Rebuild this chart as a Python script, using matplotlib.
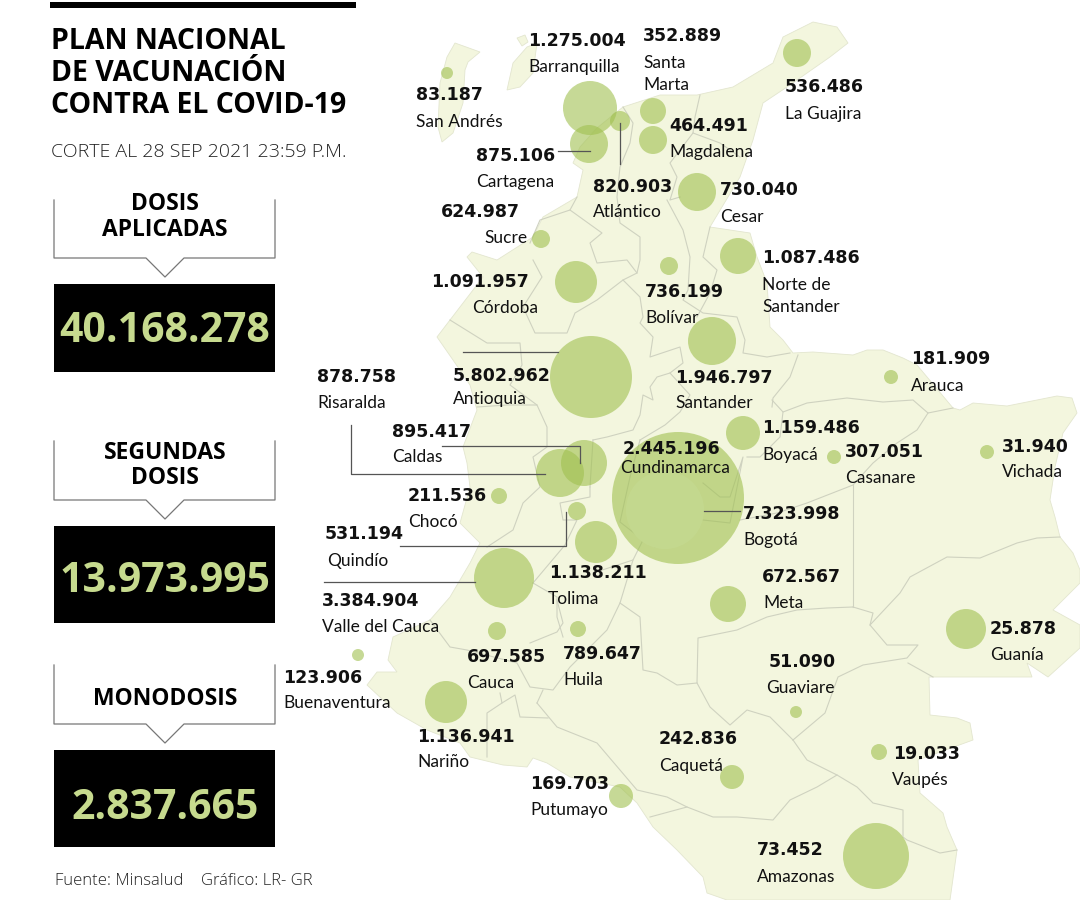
import matplotlib
matplotlib.use('Agg')
import matplotlib.pyplot as plt
from matplotlib.patches import Circle, Polygon, Rectangle

#=========================================================================
# values, one entry per bubble
names = ['Barranquilla', 'Santa\nMarta', 'San Andrés', 'La Guajira', 'Magdalena',
         'Cartagena', 'Atlántico', 'Cesar', 'Sucre', 'Norte de\nSantander',
         'Córdoba', 'Bolívar', 'Santander', 'Antioquia', 'Risaralda', 'Caldas',
         'Cundinamarca', 'Boyacá', 'Casanare', 'Arauca', 'Vichada', 'Chocó',
         'Quindío', 'Bogotá', 'Tolima', 'Valle del Cauca', 'Meta', 'Cauca',
         'Huila', 'Buenaventura', 'Nariño', 'Putumayo', 'Guanía', 'Guaviare',
         'Vaupés', 'Caquetá', 'Amazonas']
values = ['1.275.004', '352.889', '83.187', '536.486', '464.491',
          '875.106', '820.903', '730.040', '624.987', '1.087.486',
          '1.091.957', '736.199', '1.946.797', '5.802.962', '878.758', '895.417',
          '2.445.196', '1.159.486', '307.051', '181.909', '31.940', '211.536',
          '531.194', '7.323.998', '1.138.211', '3.384.904', '672.567', '697.585',
          '789.647', '123.906', '1.136.941', '169.703', '25.878', '51.090',
          '19.033', '242.836', '73.452']
bubble_x = [590, 653, 447, 797, 653, 589, 620, 697, 541, 738, 576, 669, 712, 591,
            560, 584, 665, 743, 834, 891, 987, 499, 577, 678, 596, 504, 728, 497,
            578, 358, 446, 621, 966, 796, 879, 732, 876]
bubble_y = [108, 111, 73, 53, 140, 144, 121, 192, 239, 256, 282, 266, 341, 377,
            473, 463, 510, 433, 457, 377, 452, 496, 511, 498, 542, 578, 604, 631,
            629, 655, 702, 796, 629, 712, 752, 777, 856]
bubble_r = [27, 13, 6, 14, 14, 19, 10, 19, 9, 18, 21, 9, 24, 41,
            24, 23, 39, 17, 7, 7, 7, 8, 9, 66, 21, 30, 18, 9,
            8, 6, 21, 12, 20, 6, 8, 12, 33]

value_x = [528, 643, 416, 785, 669, 476, 593, 720, 441, 762, 431, 645, 675, 453,
           317, 392, 623, 762, 845, 911, 1002, 408, 325, 743, 549, 322, 762, 467,
           563, 283, 417, 530, 990, 769, 893, 659, 757]
value_y = [46, 41, 100, 92, 131, 161, 192, 195, 217, 263, 287, 297, 383, 381,
           382, 437, 454, 433, 457, 364, 452, 501, 539, 519, 578, 606, 582, 662,
           659, 683, 742, 789, 634, 667, 759, 744, 855]
name_x = [528, 643, 416, 785, 669, 476, 593, 720, 484, 762, 472, 645, 675, 453,
          317, 392, 620, 762, 845, 911, 1002, 408, 327, 743, 548, 322, 763, 467,
          563, 283, 417, 530, 990, 766, 892, 659, 757]
name_y = [72, 68, 127, 119, 157, 187, 217, 222, 243, 290, 313, 323, 408, 404,
          408, 462, 473, 460, 483, 391, 477, 527, 566, 545, 604, 632, 608, 688,
          685, 708, 767, 815, 660, 693, 785, 771, 882]

totals_label = ['DOSIS\nAPLICADAS', 'SEGUNDAS\nDOSIS', 'MONODOSIS']
totals_value = ['40.168.278', '13.973.995', '2.837.665']

title_lines = ['PLAN NACIONAL', 'DE VACUNACIÓN', 'CONTRA EL COVID-19']
subtitle = 'CORTE AL 28 SEP 2021 23:59 P.M.'

# map geometry
country = [(813,22),(837,27),(848,43),(830,57),(787,87),(763,103),(753,140),(740,177),
           (710,227),(750,233),(757,257),(767,283),(770,327),(783,340),(793,353),
           (813,352),(853,355),(867,350),(883,350),(903,358),(917,365),(953,408),
           (960,410),(973,403),(1007,406),(1057,396),(1072,398),(1077,413),(1063,433),
           (1055,467),(1050,500),(1055,517),(1060,537),(1073,553),(1080,570),(1080,583),
           (1053,610),(1080,625),(1080,648),(1048,677),(1027,663),(1032,677),(929,677),
           (930,715),(957,718),(970,723),(973,740),(918,760),(920,793),(943,813),
           (947,827),(957,850),(950,900),(727,900),(707,893),(703,877),(677,850),
           (653,827),(637,803),(620,787),(570,777),(547,763),(533,758),(527,767),
           (503,765),(470,757),(460,743),(427,730),(397,713),(367,685),(377,672),
           (397,672),(388,660),(393,637),(430,620),(450,597),(470,563),(480,543),
           (460,523),(470,487),(467,463),(463,447),(477,410),(470,385),(453,360),
           (437,337),(450,320),(483,277),(467,257),(472,252),(497,260),(533,237),
           (543,217),(577,197),(583,170),(573,163),(580,147),(597,128),(623,107),
           (660,95),(697,95),(733,87),(773,63),(783,37)]
island_a = [(455,43),(480,52),(468,62),(465,70),(463,103),(453,133),(442,142),(438,127),
            (440,83),(447,57)]
island_b = [(507,90),(513,63),(527,47),(537,43),(533,73),(520,87)]
island_c = [(517,38),(525,35),(528,42),(522,46)]

borders = [
  [(700,95),(695,117),(693,133),(720,143),(740,157)],
  [(693,133),(670,163),(677,177),(670,200),(680,197)],
  [(623,107),(633,123),(630,143),(620,167),(617,197),(620,223),(640,237),(640,260),(637,273)],
  [(530,243),(540,220),(570,210),(602,233),(590,243),(597,263),(627,260),(637,273),(623,280)],
  [(570,210),(577,197)],
  [(533,260),(542,277),(523,307),(535,333),(567,333),(575,313),(597,300),(623,280),(640,297),
   (643,317),(640,323),(653,337),(650,357),(680,347),(683,363),(670,373),(657,377),(650,387),
   (653,400),(643,395),(640,415),(633,430),(607,437),(593,440)],
  [(667,200),(683,230),(690,257),(688,290),(683,300),(703,313),(737,317),(745,340),(743,353),
   (767,357),(790,353)],
  [(710,227),(703,257),(717,270),(710,293),(697,317)],
  [(670,373),(690,395),(680,412),(665,425),(640,440)],
  [(772,400),(783,412),(807,403),(847,398),(883,402),(913,400),(928,413),(953,408)],
  [(798,355),(790,377),(773,398),(772,407)],
  [(928,413),(917,430),(897,443),(873,463),(853,485),(807,503),(777,513),(740,520)],
  [(783,412),(780,437),(760,457),(747,457)],
  [(853,485),(853,607)],
  [(853,607),(827,608),(797,610),(767,617),(737,630),(698,638),(697,683),(710,707),(730,725),
   (747,710),(770,717),(793,740)],
  [(793,740),(825,713),(838,677),(863,665),(907,658),(918,645),(887,645),(870,625),(900,593),
   (910,577),(947,557),(980,558),(1017,543),(1037,538),(1060,537)],
  [(853,607),(873,613),(870,625)],
  [(908,663),(933,677)],
  [(793,740),(807,760),(837,775),(857,787),(873,803),(903,810),(903,837),(907,840),(940,853),(957,850)],
  [(837,775),(817,787),(790,800),(773,820),(737,817),(713,817),(687,807),(650,817)],
  [(697,683),(677,685),(657,673),(643,670),(640,617),(620,603)],
  [(537,703),(557,727),(597,743),(620,770),(637,790),(667,797),(687,807)],
  [(430,620),(450,647),(467,650),(517,663),(530,687),(553,690),(570,667),(607,630),(620,603),(633,560)],
  [(500,693),(502,703),(487,713),(487,723),(487,757)],
  [(502,703),(515,695),(520,717),(548,718)],
  [(537,703),(543,690)],
  [(533,583),(557,597),(557,617),(563,637)],
  [(530,643),(557,632),(563,623),(557,600)],
  [(590,487),(590,497),(560,503),(563,520),(577,520),(565,545),(533,583)],
  [(487,547),(513,530),(523,503),(540,487),(533,457),(547,447),(547,427),(537,405),(507,405),(477,407)],
  [(450,320),(487,343),(520,343),(522,365),(510,385),(537,405)],
  [(630,477),(620,522),(643,540),(655,547)],
  [(643,540),(633,560),(593,573)],
  [(703,483),(720,497),(730,497),(743,457),(730,523),(703,520)],
  [(593,440),(590,487)],
  [(640,440),(630,477)],
]

leaders = [
  [(558,151),(590,151)],
  [(620,123),(620,164)],
  [(463,352),(558,352)],
  [(442,446),(580,446),(580,463)],
  [(351,425),(351,474),(545,474)],
  [(400,546),(566,546),(566,512)],
  [(324,582),(475,582)],
  [(704,511),(740,511)],
]

land_color = '#f3f6de'
border_color = '#cfd2c0'
bubble_color = '#a0c050'
number_color = '#c6da8e'

#--------------------------------------------------------------------------------
fig = plt.figure(figsize=(10.8, 9), dpi=100, facecolor='white')
ax = fig.add_axes([0, 0, 1, 1])
ax.set_xlim(0, 1080)
ax.set_ylim(900, 0)
ax.axis('off')

# map
for shape in [country, island_a, island_b, island_c]:
  ax.add_patch(Polygon(shape, closed=True, fc=land_color, ec='#e3e6cf', lw=0.6, zorder=1))
for line in borders:
  ax.plot([p[0] for p in line], [p[1] for p in line], color=border_color, lw=0.8, zorder=2)

# bubbles, Cundinamarca goes on top of Bogota in a lighter tone
for n in range(len(names)):
  if names[n] == 'Cundinamarca':
    continue
  ax.add_patch(Circle((bubble_x[n], bubble_y[n]), bubble_r[n], fc=bubble_color,
                      ec='none', alpha=0.6, zorder=3))
n = names.index('Cundinamarca')
ax.add_patch(Circle((bubble_x[n], bubble_y[n]), bubble_r[n], fc='#c4d98f',
                    ec='none', alpha=0.95, zorder=3))

for line in leaders:
  ax.plot([p[0] for p in line], [p[1] for p in line], color='#555555', lw=0.9, zorder=4)

# labels
for n in range(len(names)):
  ax.text(value_x[n], value_y[n], values[n], family='DejaVu Sans', weight='bold',
          fontsize=12.5, color='#111111', va='baseline', ha='left', zorder=5)
  parts = names[n].split('\n')
  for i in range(len(parts)):
    ax.text(name_x[n], name_y[n] + i*22, parts[i], family='Lato',
            fontsize=12.5, color='#111111', va='baseline', ha='left', zorder=5)

# left panel
ax.add_patch(Rectangle((50, 2), 306, 6, fc='black', ec='none'))
for i in range(3):
  ax.text(51, 49 + i*32, title_lines[i], family='Open Sans', weight='bold',
          fontsize=20.5, color='black', va='baseline')
ax.text(51, 157, subtitle, family='Open Sans', weight='light', fontsize=14,
        color='#222222', va='baseline')

callout_top = [200, 441, 665]
callout_bottom = [258, 500, 724]
callout_tip = [277, 519, 743]
box_top = [284, 526, 750]
box_bottom = [372, 623, 847]
label_y = [[210, 236], [459, 484], [705]]
number_y = [342, 592, 819]

for i in range(3):
  cx = [54, 54, 146, 165, 184, 275, 275]
  cy = [callout_top[i], callout_bottom[i], callout_bottom[i], callout_tip[i],
        callout_bottom[i], callout_bottom[i], callout_top[i]]
  ax.plot(cx, cy, color='#777777', lw=0.9)
  ax.add_patch(Rectangle((54, box_top[i]), 221, box_bottom[i] - box_top[i],
                         fc='black', ec='none'))
  parts = totals_label[i].split('\n')
  for j in range(len(parts)):
    ax.text(165, label_y[i][j], parts[j], family='Open Sans', weight='bold',
            fontsize=16.5, color='black', ha='center', va='baseline')
  ax.text(165, number_y[i], totals_value[i], family='Open Sans', weight='bold',
          fontsize=29.5, color=number_color, ha='center', va='baseline')

ax.text(55, 885, 'Fuente: Minsalud', family='Open Sans', weight='light', fontsize=12,
        color='#222222', va='baseline')
ax.text(201, 885, 'Gráfico: LR- GR', family='Open Sans', weight='light', fontsize=12,
        color='#222222', va='baseline')

plt.savefig('out.png', dpi=100)
plt.close()
